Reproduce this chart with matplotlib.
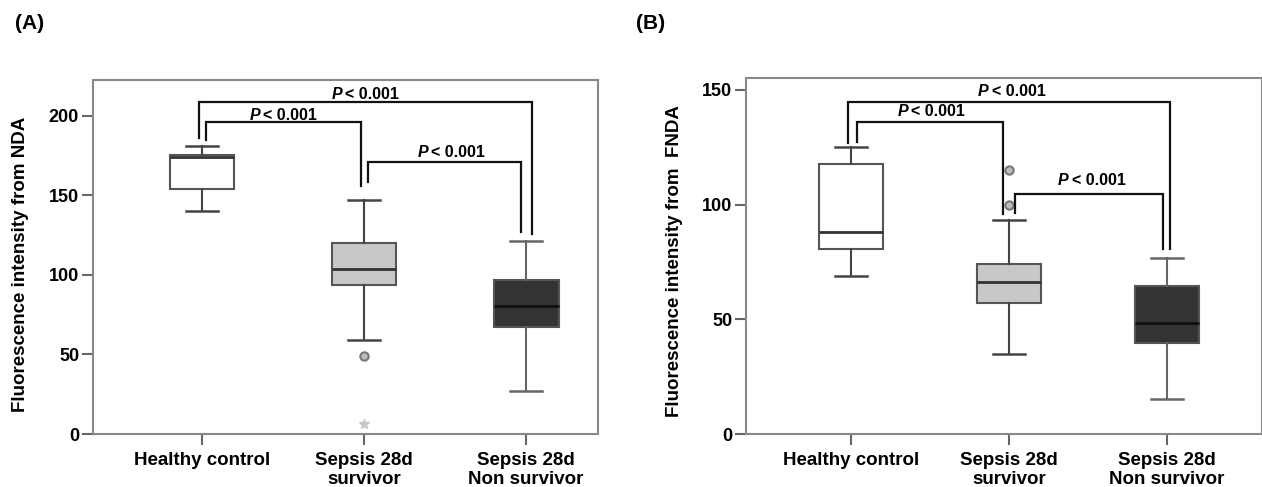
import matplotlib
matplotlib.use("Agg")
import matplotlib.pyplot as plt

plt.rcParams['font.family'] = ['Liberation Sans', 'DejaVu Sans']
plt.rcParams['font.weight'] = 'bold'

groups = ["Healthy control", "Sepsis 28d\nsurvivor", "Sepsis 28d\nNon survivor"]
box_colors = ["#ffffff", "#c8c8c8", "#333333"]
median_colors = ["#333333", "#333333", "#111111"]

# panel A: NDA
nda_whislo = [140, 59, 27]
nda_q1 = [154, 94, 67.5]
nda_med = [174, 104, 80.7]
nda_q3 = [175.5, 120.3, 97]
nda_whishi = [181, 147, 121.5]
nda_circles = [[], [49], []]
nda_stars = [[], [6], []]

# panel B: FNDA
fnda_whislo = [69, 35, 15.4]
fnda_q1 = [80.5, 57.2, 39.7]
fnda_med = [88, 66.1, 48.4]
fnda_q3 = [117.7, 74, 64.6]
fnda_whishi = [125, 93.2, 76.6]
fnda_circles = [[], [115, 100], []]
fnda_stars = [[], [], []]

p_text = "< 0.001"


def draw_panel(ax, whislo, q1, med, q3, whishi, circles, stars, width):
    stats = []
    for i in range(3):
        stats.append(dict(whislo=whislo[i], q1=q1[i], med=med[i], q3=q3[i],
                          whishi=whishi[i], fliers=[]))
    bp = ax.bxp(stats, positions=[1, 2, 3], widths=width, patch_artist=True,
                showfliers=False, manage_ticks=False)
    for i, box in enumerate(bp['boxes']):
        box.set_facecolor(box_colors[i])
        box.set_edgecolor('#555555')
        box.set_linewidth(1.5)
    for i, m in enumerate(bp['medians']):
        m.set_color(median_colors[i])
        m.set_linewidth(2)
    wc = ['#444444', '#444444', '#666666']
    for i in range(3):
        for w in bp['whiskers'][2 * i:2 * i + 2]:
            w.set_color(wc[i])
            w.set_linewidth(1.5)
        for c in bp['caps'][2 * i:2 * i + 2]:
            c.set_color(wc[i])
            c.set_linewidth(1.8)
            c.set_xdata([i + 1 - width * 0.25, i + 1 + width * 0.25])
    for i in range(3):
        if circles[i]:
            ax.plot([i + 1] * len(circles[i]), circles[i], 'o', ms=6,
                    mfc='#bbbbbb', mec='#777777', mew=1.5, zorder=5)
        if stars[i]:
            ax.plot([i + 1] * len(stars[i]), stars[i], '*', ms=7,
                    color='#c8c8c8', zorder=5)
    ax.set_xticks([1, 2, 3])
    ax.set_xticklabels(groups, fontsize=13.5, fontweight='bold', linespacing=1.15)
    ax.tick_params(axis='x', length=8, width=1.5, color='#666666', pad=5)
    ax.tick_params(axis='y', length=8, width=1.5, color='#666666', pad=2,
                   labelsize=13)
    for lab in ax.get_yticklabels():
        lab.set_fontweight('bold')
    for s in ax.spines.values():
        s.set_color('#888888')
        s.set_linewidth(1.5)


def bracket(ax, x1, x2, y, y1, y2):
    ax.plot([x1, x1, x2, x2], [y1, y, y, y2], color='#111111', lw=1.6,
            solid_joinstyle='miter', zorder=6)


def ptext(ax, x, y):
    # x is the left edge of the "P"
    t = ax.annotate("P", (x, y), style='italic', fontweight='bold', fontsize=11.5,
                    ha='left', va='center')
    ax.annotate(p_text, xy=(1, 0.5), xycoords=t, xytext=(2, 0),
                textcoords='offset points', fontweight='bold', fontsize=11.5,
                ha='left', va='center')


fig = plt.figure(figsize=(12.62, 4.87), dpi=100)
axA = fig.add_axes([0.0737, 0.1088, 0.4002, 0.7269])
axB = fig.add_axes([0.5911, 0.1088, 0.4089, 0.7310])

draw_panel(axA, nda_whislo, nda_q1, nda_med, nda_q3, nda_whishi,
           nda_circles, nda_stars, 0.40)
axA.set_xlim(0.327, 3.444)
axA.set_ylim(0, 222.6)
axA.set_yticks([0, 50, 100, 150, 200])
axA.set_ylabel("Fluorescence intensity from NDA", fontsize=13.5, fontweight='bold')
axA.yaxis.set_label_coords(-0.127, 0.48)
bracket(axA, 0.98, 3.035, 208.6, 186, 125.6)
bracket(axA, 1.025, 1.98, 196, 185, 156)
bracket(axA, 2.026, 2.97, 171.3, 158.7, 127)
ptext(axA, 1.80, 213.5)
ptext(axA, 1.296, 200.5)
ptext(axA, 2.333, 177)

draw_panel(axB, fnda_whislo, fnda_q1, fnda_med, fnda_q3, fnda_whishi,
           fnda_circles, fnda_stars, 0.405)
axB.set_xlim(0.335, 3.60)
axB.set_ylim(0, 155.2)
axB.set_yticks([0, 50, 100, 150])
axB.set_ylabel("Fluorescence intensity from  FNDA", fontsize=13.5, fontweight='bold')
axB.yaxis.set_label_coords(-0.122, 0.485)
bracket(axB, 0.98, 3.02, 144.6, 126.8, 80.6)
bracket(axB, 1.04, 1.96, 135.9, 127.4, 95.9)
bracket(axB, 2.04, 2.975, 104.6, 96.5, 80.6)
ptext(axB, 1.804, 149.5)
ptext(axB, 1.297, 140.5)
ptext(axB, 2.31, 110.5)

fig.text(0.012, 0.952, "(A)", fontsize=15, fontweight='bold', va='center')
fig.text(0.504, 0.952, "(B)", fontsize=15, fontweight='bold', va='center')

fig.savefig("out.png", dpi=100)
